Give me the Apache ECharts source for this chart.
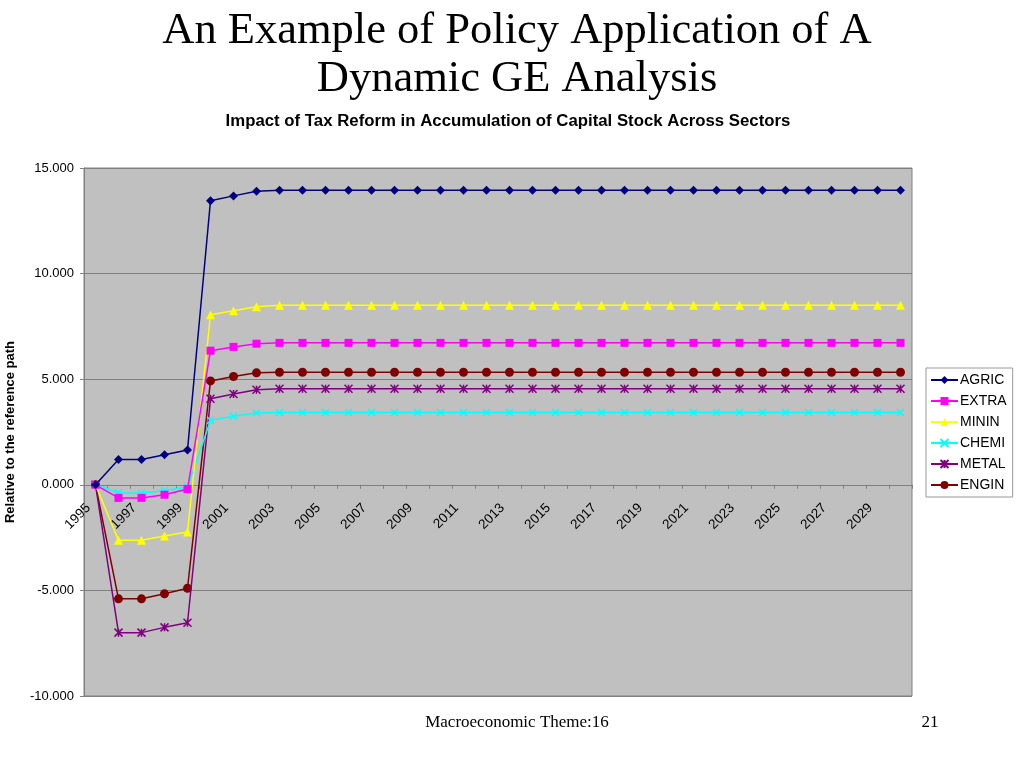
<!DOCTYPE html>
<html><head><meta charset="utf-8">
<script src="https://cdn.jsdelivr.net/npm/echarts@6/dist/echarts.min.js"></script>
<style>html,body{margin:0;padding:0;background:#fff}#c{width:1024px;height:768px}</style>
</head><body><div id="c"></div>
<script>
const years = [];
for (let y = 1995; y <= 2030; y++) years.push(String(y));
const agric = [0, 1.2, 1.2, 1.42, 1.65, 13.45, 13.68, 13.9, 13.95, 13.95, 13.95, 13.95, 13.95, 13.95, 13.95, 13.95, 13.95, 13.95, 13.95, 13.95, 13.95, 13.95, 13.95, 13.95, 13.95, 13.95, 13.95, 13.95, 13.95, 13.95, 13.95, 13.95, 13.95, 13.95, 13.95, 13.95];
const extra = [0, -0.62, -0.62, -0.47, -0.2, 6.35, 6.53, 6.68, 6.72, 6.72, 6.72, 6.72, 6.72, 6.72, 6.72, 6.72, 6.72, 6.72, 6.72, 6.72, 6.72, 6.72, 6.72, 6.72, 6.72, 6.72, 6.72, 6.72, 6.72, 6.72, 6.72, 6.72, 6.72, 6.72, 6.72, 6.72];
const minin = [0, -2.63, -2.63, -2.42, -2.23, 8.05, 8.24, 8.43, 8.5, 8.5, 8.5, 8.5, 8.5, 8.5, 8.5, 8.5, 8.5, 8.5, 8.5, 8.5, 8.5, 8.5, 8.5, 8.5, 8.5, 8.5, 8.5, 8.5, 8.5, 8.5, 8.5, 8.5, 8.5, 8.5, 8.5, 8.5];
const chemi = [0, -0.38, -0.4, -0.27, -0.1, 3.05, 3.25, 3.4, 3.42, 3.42, 3.42, 3.42, 3.42, 3.42, 3.42, 3.42, 3.42, 3.42, 3.42, 3.42, 3.42, 3.42, 3.42, 3.42, 3.42, 3.42, 3.42, 3.42, 3.42, 3.42, 3.42, 3.42, 3.42, 3.42, 3.42, 3.42];
const metal = [0, -7.0, -7.0, -6.75, -6.53, 4.07, 4.3, 4.5, 4.55, 4.55, 4.55, 4.55, 4.55, 4.55, 4.55, 4.55, 4.55, 4.55, 4.55, 4.55, 4.55, 4.55, 4.55, 4.55, 4.55, 4.55, 4.55, 4.55, 4.55, 4.55, 4.55, 4.55, 4.55, 4.55, 4.55, 4.55];
const engin = [0, -5.4, -5.4, -5.16, -4.9, 4.92, 5.13, 5.3, 5.33, 5.33, 5.33, 5.33, 5.33, 5.33, 5.33, 5.33, 5.33, 5.33, 5.33, 5.33, 5.33, 5.33, 5.33, 5.33, 5.33, 5.33, 5.33, 5.33, 5.33, 5.33, 5.33, 5.33, 5.33, 5.33, 5.33, 5.33];

const seriesNames = ['AGRIC', 'EXTRA', 'MININ', 'CHEMI', 'METAL', 'ENGIN'];
const seriesData = [agric, extra, minin, chemi, metal, engin];
const colors = ['#000080', '#FF00FF', '#FFFF00', '#00FFFF', '#800080', '#800000'];
const xPath = 'path://M0,0L10,10M10,0L0,10';
const starPath = 'path://M0,0L10,10M10,0L0,10M5,0L5,10';
const symbols = ['diamond', 'rect', 'triangle', xPath, starPath, 'circle'];
const sizes = [9, 8, 9, 7, 8, 9];

const gridTop = 168, gridBottom = 72, chartH = 768;
const yMin = -10, yMax = 15;
const plotH = chartH - gridTop - gridBottom;
const zeroOffset = -(plotH * (0 - yMin) / (yMax - yMin));

const chart = echarts.init(document.getElementById('c'));
chart.setOption({
  animation: false,
  backgroundColor: '#fff',
  color: colors,
  title: [
    { text: 'An Example of Policy Application of A\nDynamic GE Analysis', left: 512, top: 2, textAlign: 'center',
      textStyle: { fontFamily: 'Liberation Serif', fontWeight: 'normal', fontSize: 44.5, lineHeight: 48, color: '#000' } },
    { text: 'Impact of Tax Reform in Accumulation of Capital Stock Across Sectors', left: 503, top: 108, textAlign: 'center',
      textStyle: { fontFamily: 'Liberation Sans', fontWeight: 'bold', fontSize: 16.8, color: '#000' } },
    { text: 'Macroeconomic Theme:16', left: 512, top: 709, textAlign: 'center',
      textStyle: { fontFamily: 'Liberation Serif', fontWeight: 'normal', fontSize: 17, color: '#000' } },
    { text: '21', left: 925, top: 709, textAlign: 'center',
      textStyle: { fontFamily: 'Liberation Serif', fontWeight: 'normal', fontSize: 17, color: '#000' } }
  ],
  grid: { left: 84, right: 112, top: gridTop, bottom: gridBottom, outerBoundsMode: 'none', containLabel: false,
    show: true, backgroundColor: '#C0C0C0', borderColor: '#808080', borderWidth: 1 },
  legend: {
    orient: 'vertical', left: 926, top: 368,
    data: seriesNames,
    backgroundColor: '#fff', borderColor: '#999', borderWidth: 1,
    padding: [5, 6, 5, 4], itemGap: 7, itemWidth: 27, itemHeight: 10,
    textStyle: { fontFamily: 'Liberation Sans', fontSize: 14, color: '#000', padding: [0, 0, 0, -3] }
  },
  xAxis: {
    type: 'category', data: years, boundaryGap: true, offset: zeroOffset,
    axisLine: { onZero: false, lineStyle: { color: '#808080', width: 1 } },
    axisTick: { show: true, interval: 0, length: 4, lineStyle: { color: '#808080' } },
    axisLabel: { interval: 1, rotate: 45, fontFamily: 'Liberation Sans', fontSize: 13.5, color: '#000', margin: 14, padding: [0, 10, 0, 0] },
    splitLine: { show: false }
  },
  yAxis: {
    type: 'value', min: yMin, max: yMax, interval: 5,
    name: 'Relative to the reference path', nameLocation: 'middle', nameGap: 67, nameRotate: 90,
    nameTextStyle: { fontFamily: 'Liberation Sans', fontWeight: 'bold', fontSize: 13, color: '#000' },
    axisLine: { show: true, lineStyle: { color: '#808080' } },
    axisTick: { show: true, length: 4, lineStyle: { color: '#808080' } },
    axisLabel: { formatter: v => v.toFixed(3), fontFamily: 'Liberation Sans', fontSize: 13, color: '#000', margin: 10 },
    splitLine: { show: true, lineStyle: { color: '#808080', width: 1 } }
  },
  series: seriesNames.map((n, i) => ({
    name: n, type: 'line', data: seriesData[i],
    symbol: symbols[i], symbolSize: sizes[i], showSymbol: true,
    lineStyle: { color: colors[i], width: 1.5 },
    itemStyle: { color: colors[i], borderColor: colors[i], borderWidth: (i === 3 || i === 4) ? 1.5 : 0 },
    z: 2 + (5 - i)
  }))
});
</script></body></html>
